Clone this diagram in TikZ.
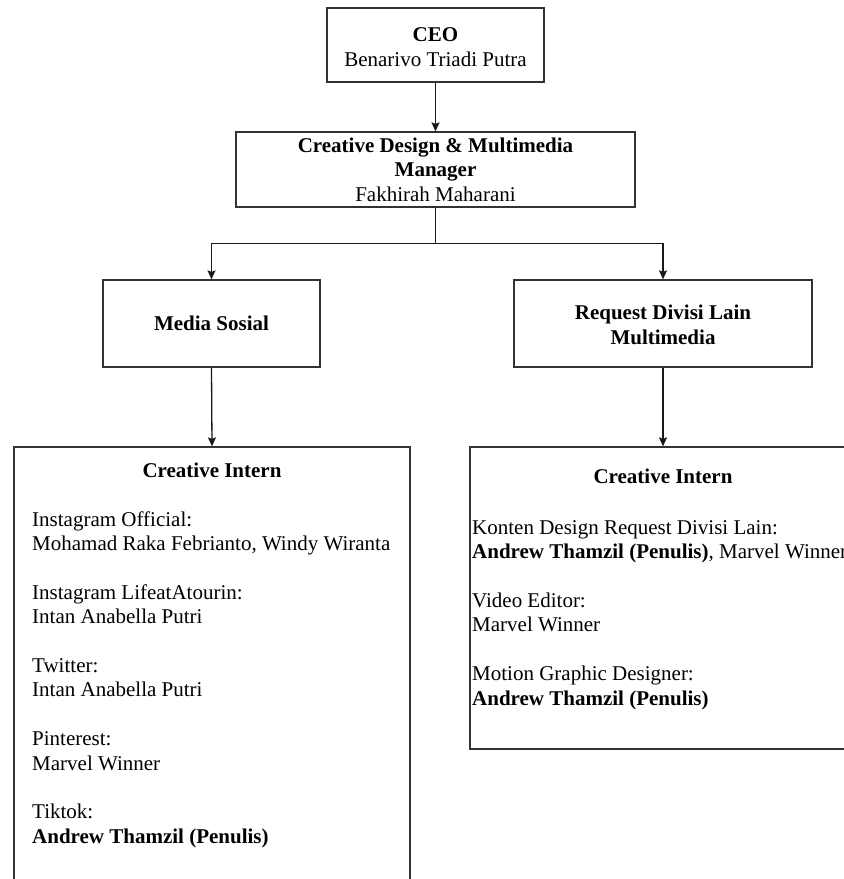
\documentclass[tikz,border=0pt]{standalone}
\usepackage{fontspec}
\setmainfont{Liberation Serif}
\usetikzlibrary{arrows.meta}
\tikzset{
  box/.style={draw=black!80, line width=1.3pt, rectangle, inner sep=0pt},
  txt/.style={font=\fontsize{21}{24.4}\selectfont, inner sep=0pt},
  conn/.style={draw=black!90, line width=1.3pt},
  arr/.style={conn, -{Stealth[length=9pt,width=8pt,inset=1.5pt]}}
}
\begin{document}
\begin{tikzpicture}[x=1pt,y=-1pt]
\useasboundingbox (0,0) rectangle (844,879);
\clip (0,0) rectangle (844,879);
% boxes
\node[box, minimum width=217pt, minimum height=74pt] (ceo) at (435.5,45) {};
\node[box, minimum width=399pt, minimum height=75pt] (mgr) at (435.5,169.5) {};
\node[box, minimum width=217pt, minimum height=87pt] (media) at (211.5,323.5) {};
\node[box, minimum width=298pt, minimum height=87pt] (req) at (663,323.5) {};
\node[box, minimum width=396pt, minimum height=453pt] (lint) at (212,673.5) {};
\node[box, minimum width=386pt, minimum height=302pt] (rint) at (663,598) {};
% texts
\node[txt, align=center] (ceot) at (435.5,47) {\bfseries CEO\\[0.6pt]Benarivo Triadi Putra};
\node[txt, align=center] (mgrt) at (435.5,169.5) {\bfseries Creative Design \& Multimedia\\\bfseries Manager\\Fakhirah Maharani};
\node[txt, font=\fontsize{21}{24.4}\selectfont\bfseries] (mediat) at (211.5,323.5) {Media Sosial};
\node[txt, align=center, font=\fontsize{21}{24.4}\selectfont\bfseries] (reqt) at (663,325) {Request Divisi Lain\\Multimedia};
\node[txt, anchor=base, font=\fontsize{21}{24.4}\selectfont\bfseries] (lintt) at (212,477) {Creative Intern};
\node[txt, anchor=north west, align=left] (lintl) at (32,508.9) {\strut Instagram Official:\\
Mohamad Raka Febrianto, Windy Wiranta\\[24.4pt]
Instagram LifeatAtourin:\\
Intan Anabella Putri\\[24.4pt]
Twitter:\\
Intan Anabella Putri\\[24.4pt]
Pinterest:\\
Marvel Winner\\[24.4pt]
Tiktok:\\
\textbf{Andrew Thamzil (Penulis)}};
\node[txt, anchor=base, font=\fontsize{21}{24.4}\selectfont\bfseries] (rintt) at (663,483) {Creative Intern};
\node[txt, anchor=north west, align=left] (rintl) at (472,517) {\strut Konten Design Request Divisi Lain:\\
\textbf{Andrew Thamzil (Penulis)}, Marvel Winner\\[24.4pt]
Video Editor:\\
Marvel Winner\\[24.4pt]
Motion Graphic Designer:\\
\textbf{Andrew Thamzil (Penulis)}};
% connectors
\draw[arr] (ceo.south) -- (mgr.north);
\draw[conn] (mgr.south) -- ++(0,36) coordinate (split);
\draw[arr] (split) -| (media.north);
\draw[arr] (split) -| (req.north);
\draw[arr] (media.south) -- (lint.north);
\draw[arr] (req.south) -- (rint.north);
\end{tikzpicture}
\end{document}
